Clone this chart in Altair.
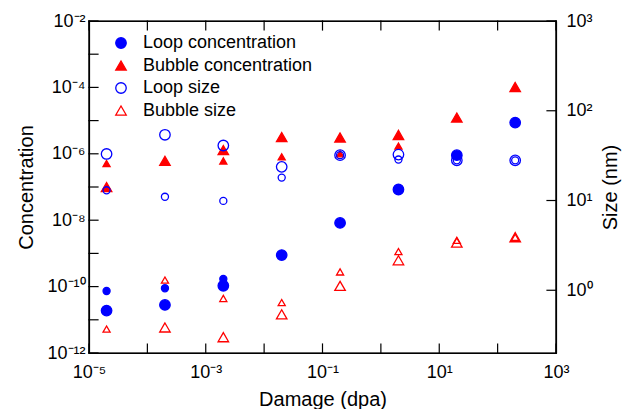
import altair as alt
import pandas as pd

FONT = "Liberation Sans"

# ---- data ----
damage = [2e-5, 2e-4, 2e-3, 2e-2, 0.2, 2, 20, 200]

# large markers
loop_conc_large = [1.9e-11, 2.8e-11, 1.06e-10, 8.9e-10, 8.3e-9, 8.4e-8, 9.1e-7, 8.7e-6]
bubble_conc_large = [1.0e-7, 6.1e-7, 1.3e-6, 3.2e-6, 3.1e-6, 3.7e-6, 1.24e-5, 1.03e-4]
loop_size_large = [33, 54, 41, 23.7, 32, 32.5, 28, 28]
bubble_size_large = [None, 0.385, 0.30, 0.54, 1.12, 2.16, 3.4, 3.9]

# small markers
loop_conc_small = [7.4e-11, 8.9e-11, 1.7e-10, None, None, None, None, None]
bubble_conc_small = [5.1e-7, None, 6.1e-7, 8.1e-7, 1.0e-6, 1.7e-6, None, None]
loop_size_small = [13, 11, 9.9, 18, 32, 28.6, 28, 28]
bubble_size_small = [0.37, 1.3, 0.81, 0.73, 1.6, 2.7, 3.6, 3.9]

series_order = ["Loop concentration", "Bubble concentration", "Loop size", "Bubble size"]

# axis ranges and ticks (decade exponents) and which ones carry a label
x_domain = [1e-5, 1e3]
conc_domain = [1e-12, 1e-2]
size_domain = [0.2, 1000]
x_tick_exp = [-5, -4, -3, -2, -1, 0, 1, 2, 3]
x_label_exp = [-5, -3, -1, 1, 3]
conc_tick_exp = [-12, -11, -10, -9, -8, -7, -6, -5, -4, -3, -2]
conc_label_exp = [-12, -10, -8, -6, -4, -2]
size_tick_exp = [0, 1, 2, 3]
size_label_exp = [0, 1, 2, 3]

SUP = str.maketrans("-0123456789", "⁻⁰¹²³⁴⁵⁶⁷⁸⁹")

W, H, TICK = 467, 332, 9


def label_expr(tick_exp, label_exp):
    lo = min(tick_exp)
    labels = []
    for e in range(lo, max(tick_exp) + 1):
        labels.append(("10" + str(e).translate(SUP)) if e in label_exp else "")
    arr = "[" + ",".join("'" + s + "'" for s in labels) + "]"
    return f"{arr}[round(log(datum.value)/LN10) - ({lo})]"


rows = []


def add(vals, series, group, mset):
    for d, v in zip(damage, vals):
        if v is not None:
            rows.append({"damage": d, "value": v, "series": series, "group": group, "set": mset})


add(loop_conc_large, "Loop concentration", "conc", "large")
add(bubble_conc_large, "Bubble concentration", "conc", "large")
add(loop_conc_small, "Loop concentration", "conc", "small")
add(bubble_conc_small, "Bubble concentration", "conc", "small")
add(loop_size_large, "Loop size", "size", "large")
add(bubble_size_large, "Bubble size", "size", "large")
add(loop_size_small, "Loop size", "size", "small")
add(bubble_size_small, "Bubble size", "size", "small")

df = pd.DataFrame(rows)
conc_df = df[df["group"] == "conc"]
size_df = df[df["group"] == "size"]

xtick_df = pd.DataFrame({"v": [10.0 ** e for e in x_tick_exp]})
ctick_df = pd.DataFrame({"v": [10.0 ** e for e in conc_tick_exp]})
stick_df = pd.DataFrame({"v": [10.0 ** e for e in size_tick_exp]})
corner_df = pd.DataFrame({"x0": [x_domain[0]], "x1": [x_domain[1]],
                          "y0": [conc_domain[0]], "y1": [conc_domain[1]]})

shape_scale = alt.Scale(domain=series_order, range=["circle", "triangle-up", "circle", "triangle-up"])
stroke_scale = alt.Scale(domain=series_order, range=["#0000ff", "#ff0000", "#0000ff", "#ff0000"])
fill_scale = alt.Scale(domain=series_order, range=["#0000ff", "#ff0000", "transparent", "transparent"])
size_scale = alt.Scale(domain=["large", "small"], range=[110, 50])

legend = alt.Legend(
    title=None, orient="none", legendX=23, legendY=13, symbolSize=110,
    labelFontSize=18, labelFont=FONT, labelColor="black", labelOffset=13,
    labelLimit=400, rowPadding=4.5, padding=0, symbolStrokeWidth=1.3,
)

x_scale = alt.Scale(type="log", domain=x_domain)
conc_scale = alt.Scale(type="log", domain=conc_domain)
size_yscale = alt.Scale(type="log", domain=size_domain)

AX = dict(labelFont=FONT, labelFontSize=18, labelColor="black",
          titleFont=FONT, titleFontSize=20, titleFontWeight="normal", titleColor="black",
          grid=False, labelFlush=False, ticks=False, zindex=1,
          domain=True, domainColor="#000000", domainWidth=1.2, domainOpacity=1)

enc_common = dict(
    shape=alt.Shape("series:N", scale=shape_scale, legend=legend),
    stroke=alt.Stroke("series:N", scale=stroke_scale, legend=legend),
    fill=alt.Fill("series:N", scale=fill_scale, legend=legend),
    size=alt.Size("set:N", scale=size_scale, legend=None),
)

conc_layer = alt.Chart(conc_df).mark_point(strokeWidth=1.3, opacity=1).encode(
    x=alt.X("damage:Q", scale=x_scale, axis=alt.Axis(
        orient="bottom", values=list(xtick_df["v"]), labelExpr=label_expr(x_tick_exp, x_label_exp),
        labelPadding=10, title="Damage (dpa)", titlePadding=8, **AX,
    )),
    y=alt.Y("value:Q", scale=conc_scale, axis=alt.Axis(
        orient="left", values=list(ctick_df["v"]),
        labelExpr=label_expr(conc_tick_exp, conc_label_exp),
        labelPadding=4, title="Concentration", titlePadding=10, **AX,
    )),
    **enc_common,
)

size_layer = alt.Chart(size_df).mark_point(strokeWidth=1.3, opacity=1).encode(
    x=alt.X("damage:Q", scale=x_scale, axis=alt.Axis(
        orient="top", values=list(xtick_df["v"]), labels=False, title=None, **AX)),
    y=alt.Y("value:Q", scale=size_yscale, axis=alt.Axis(
        orient="right", values=list(stick_df["v"]),
        labelExpr=label_expr(size_tick_exp, size_label_exp),
        labelPadding=10, title="Size (nm)", titleAngle=270, titleBaseline="top",
        titlePadding=8, **AX,
    )),
    **enc_common,
)


# frame edges and inward tick marks as line-shaped symbols, placed through the scales
def line_symbol(data, path, length, **enc):
    return alt.Chart(data).mark_point(
        shape=path, size=length * length, filled=False, stroke="#000000",
        strokeWidth=1.2, opacity=1, strokeCap="square",
    ).encode(**enc)


VUP, VDOWN, HRIGHT, HLEFT = "M0,0L0,-2", "M0,0L0,2", "M0,0L2,0", "M0,0L-2,0"

frame_left = line_symbol(corner_df, VUP, H,
                         x=alt.X("x0:Q", scale=x_scale, axis=None),
                         y=alt.Y("y0:Q", scale=conc_scale, axis=None))
frame_right = line_symbol(corner_df, VUP, H,
                          x=alt.X("x1:Q", scale=x_scale, axis=None),
                          y=alt.Y("y0:Q", scale=conc_scale, axis=None))
frame_bottom = line_symbol(corner_df, HRIGHT, W,
                           x=alt.X("x0:Q", scale=x_scale, axis=None),
                           y=alt.Y("y0:Q", scale=conc_scale, axis=None))
frame_top = line_symbol(corner_df, HRIGHT, W,
                        x=alt.X("x0:Q", scale=x_scale, axis=None),
                        y=alt.Y("y1:Q", scale=conc_scale, axis=None))

xt_bottom = line_symbol(xtick_df, VUP, TICK,
                        x=alt.X("v:Q", scale=x_scale, axis=None), y=alt.value(H))
xt_top = line_symbol(xtick_df, VDOWN, TICK,
                     x=alt.X("v:Q", scale=x_scale, axis=None), y=alt.value(0))
yt_left = line_symbol(ctick_df, HRIGHT, TICK,
                      y=alt.Y("v:Q", scale=conc_scale, axis=None), x=alt.value(0))
yt_right = line_symbol(stick_df, HLEFT, TICK,
                       y=alt.Y("v:Q", scale=size_yscale, axis=None), x=alt.value(W))

chart = alt.layer(
    conc_layer, size_layer,
    frame_left, frame_right, frame_bottom, frame_top,
    xt_bottom, xt_top, yt_left, yt_right,
).resolve_scale(
    y="independent"
).resolve_axis(
    x="independent", y="independent"
).properties(
    width=W, height=H,
    background="white",
    autosize=alt.AutoSizeParams(type="none"),
    padding={"left": 81, "top": 13, "right": 66, "bottom": 56},
).configure_view(
    stroke="#000000", strokeWidth=1.2, strokeOpacity=1
)

chart.save("out.html", embed_options={"renderer": "svg", "actions": False})
